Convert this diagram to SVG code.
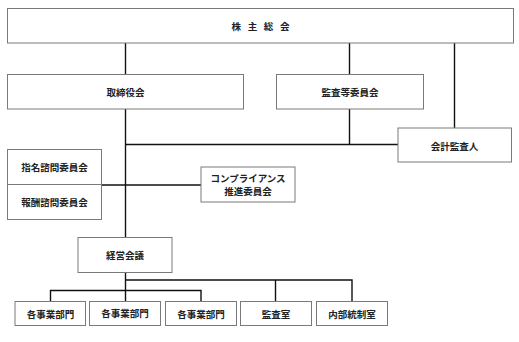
<svg xmlns="http://www.w3.org/2000/svg" width="519" height="342" viewBox="0 0 519 342">
<style>
.box{fill:#fff;stroke:#7a7a7a;stroke-width:1}
.t{font-family:"Noto Sans CJK JP","Noto Sans",sans-serif;font-size:9.5px;font-weight:700;fill:#222;text-anchor:middle;dominant-baseline:central}
.ln{stroke:#111;stroke-width:1.4;fill:none}
</style>
<rect width="519" height="342" fill="#fff"/>
<g id="connectors">
<line class="ln" x1="125.5" y1="43" x2="125.5" y2="74"/>
<line class="ln" x1="349.5" y1="43" x2="349.5" y2="74"/>
<line class="ln" x1="454.5" y1="43" x2="454.5" y2="128"/>
<line class="ln" x1="125.5" y1="109" x2="125.5" y2="237"/>
<line class="ln" x1="349.5" y1="109" x2="349.5" y2="144.5"/>
<line class="ln" x1="125.5" y1="144.5" x2="398" y2="144.5"/>
<line class="ln" x1="101.5" y1="185" x2="201" y2="185"/>
<line class="ln" x1="125.5" y1="272.5" x2="125.5" y2="301"/>
<polyline class="ln" points="125.5,280 352,280 352,301"/>
<line class="ln" x1="275.5" y1="280" x2="275.5" y2="301"/>
<polyline class="ln" points="50.5,301 50.5,290.5 201,290.5 201,301"/>
</g>
<g id="n-shareholders"><rect class="box" x="7.5" y="8.5" width="506" height="34.5"/><text class="t" x="260.5" y="26" word-spacing="4.5">株 主 総 会</text></g>
<g id="n-board"><rect class="box" x="7.5" y="74.5" width="236" height="34.5"/><text class="t" x="125.5" y="92">取締役会</text></g>
<g id="n-audit-committee"><rect class="box" x="276.5" y="74.5" width="147" height="34.5"/><text class="t" x="350" y="92">監査等委員会</text></g>
<g id="n-auditor"><rect class="box" x="398" y="128" width="113.5" height="34"/><text class="t" x="454.5" y="145.5">会計監査人</text></g>
<g id="n-nomination"><rect class="box" x="7.5" y="149.5" width="94" height="35"/><text class="t" x="54.5" y="167">指名諮問委員会</text></g>
<g id="n-compensation"><rect class="box" x="7.5" y="184.5" width="94" height="35"/><text class="t" x="54.5" y="202">報酬諮問委員会</text></g>
<g id="n-compliance"><rect class="box" x="201" y="167" width="94" height="35"/><text class="t" x="248" y="178">コンプライアンス</text><text class="t" x="248" y="191.2">推進委員会</text></g>
<g id="n-management"><rect class="box" x="78" y="237.5" width="94" height="35"/><text class="t" x="125" y="255">経営会議</text></g>
<g id="n-div1"><rect class="box" x="15" y="301.5" width="70.5" height="24"/><text class="t" x="50.5" y="313.5">各事業部門</text></g>
<g id="n-div2"><rect class="box" x="89.5" y="301.5" width="71" height="24"/><text class="t" x="125" y="313">各事業部門</text></g>
<g id="n-div3"><rect class="box" x="165.5" y="301.5" width="71" height="24"/><text class="t" x="201" y="313.5">各事業部門</text></g>
<g id="n-audit-office"><rect class="box" x="240.5" y="301.5" width="71" height="24"/><text class="t" x="276" y="314">監査室</text></g>
<g id="n-internal-control"><rect class="box" x="316.5" y="301.5" width="71" height="24"/><text class="t" x="352" y="313.5">内部統制室</text></g>
</svg>
